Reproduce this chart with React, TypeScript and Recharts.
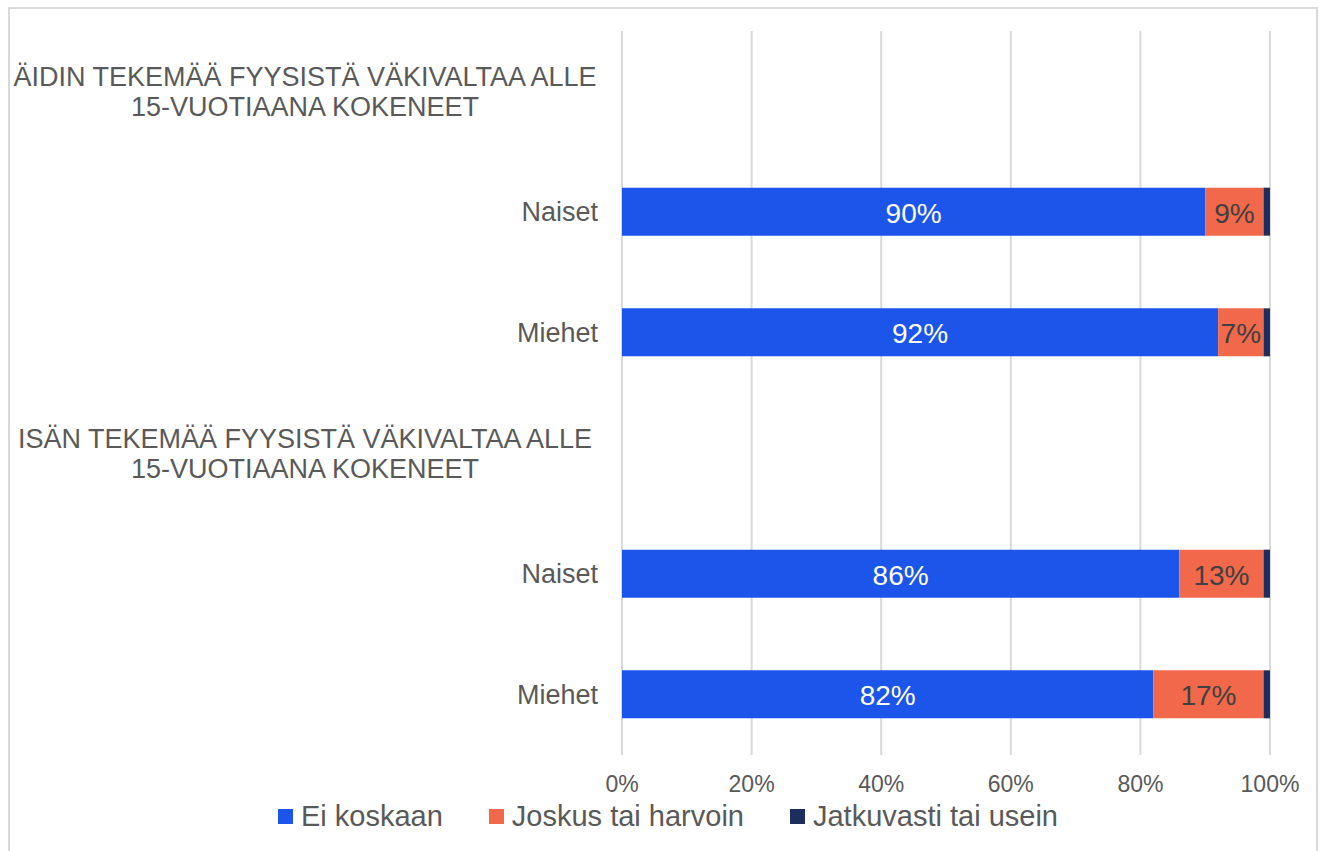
import React from "react";
import { BarChart, Bar, XAxis, YAxis, CartesianGrid, LabelList } from "recharts";

// Row keys (unique) and their displayed labels
const rowKeys = ["aiti", "aitiNaiset", "aitiMiehet", "isa", "isaNaiset", "isaMiehet"];
const rowLabels = [
  "ÄIDIN TEKEMÄÄ FYYSISTÄ VÄKIVALTAA ALLE\n15-VUOTIAANA KOKENEET",
  "Naiset",
  "Miehet",
  "ISÄN TEKEMÄÄ FYYSISTÄ VÄKIVALTAA ALLE\n15-VUOTIAANA KOKENEET",
  "Naiset",
  "Miehet",
];

// Percentages per series (null = header row without a bar)
const eiKoskaan = [null, 90, 92, null, 86, 82];
const joskus = [null, 9, 7, null, 13, 17];
const jatkuvasti = [null, 1, 1, null, 1, 1];

const seriesNames = ["Ei koskaan", "Joskus tai harvoin", "Jatkuvasti tai usein"];

const xTicks = [0, 20, 40, 60, 80, 100];

const FONT = "'Liberation Sans', Arial, sans-serif";
const TEXT = "#595959";
const BLUE = "#1B55EA";
const ORANGE = "#F2684B";
const NAVY = "#1C2D5E";
const seriesColors = [BLUE, ORANGE, NAVY];

const data = rowKeys.map((k, i) => ({
  key: k,
  ei: eiKoskaan[i],
  joskus: joskus[i],
  jatkuvasti: jatkuvasti[i],
}));

const YTick = ({ x, y, payload }: any) => {
  const idx = rowKeys.indexOf(payload.value);
  const label = rowLabels[idx] ?? "";
  const lines = label.split("\n");
  if (lines.length > 1) {
    return (
      <text x={x - 309} y={y} textAnchor="middle" fill={TEXT} fontSize={27} fontFamily={FONT}>
        {lines.map((ln: string, j: number) => (
          <tspan key={j} x={x - 309} dy={j === 0 ? -5 : 30}>{ln}</tspan>
        ))}
      </text>
    );
  }
  return (
    <text x={x - 16} y={y} dy={9} textAnchor="end" fill={TEXT} fontSize={27} fontFamily={FONT}>
      {label}
    </text>
  );
};

const makeLabel = (color: string) => (props: any) => {
  const { x, y, width, height, value } = props;
  if (value == null || value < 3) return null;
  return (
    <text
      x={x + width / 2}
      y={y + height / 2}
      dy={11}
      textAnchor="middle"
      fill={color}
      fontSize={28}
      fontFamily={FONT}
    >
      {`${value}%`}
    </text>
  );
};

export default function App() {
  return (
    <div style={{ position: "fixed", left: 0, top: 0, width: 1320, height: 851, background: "#fff", overflow: "hidden" }}>
      <div style={{ position: "absolute", left: 8, top: 7, width: 1306, height: 870, border: "2px solid #D9D9D9" }} />
      <div style={{ position: "absolute", left: 0, top: 0 }}>
        <BarChart
          width={1320}
          height={851}
          data={data}
          layout="vertical"
          barSize={48}
          margin={{ top: 31, right: 50, bottom: 56, left: 0 }}
        >
          <CartesianGrid horizontal={false} stroke="#D9D9D9" strokeWidth={2} />
          <XAxis
            type="number"
            domain={[0, 100]}
            ticks={xTicks}
            tickFormatter={(v: number) => `${v}%`}
            axisLine={false}
            tickLine={false}
            tickSize={6}
            tickMargin={15}
            height={40}
            tick={{ fill: TEXT, fontSize: 23, fontFamily: FONT }}
          />
          <YAxis
            type="category"
            dataKey="key"
            width={622}
            axisLine={false}
            tickLine={false}
            tick={<YTick />}
            interval={0}
          />
          <Bar dataKey="ei" name={seriesNames[0]} stackId="a" fill={BLUE} isAnimationActive={false}>
            <LabelList dataKey="ei" content={makeLabel("#FFFFFF")} />
          </Bar>
          <Bar dataKey="joskus" name={seriesNames[1]} stackId="a" fill={ORANGE} isAnimationActive={false}>
            <LabelList dataKey="joskus" content={makeLabel("#404040")} />
          </Bar>
          <Bar dataKey="jatkuvasti" name={seriesNames[2]} stackId="a" fill={NAVY} isAnimationActive={false} />
        </BarChart>
      </div>
      {/* legend */}
      <div
        style={{
          position: "absolute",
          top: 802,
          left: 15,
          width: 1306,
          display: "flex",
          justifyContent: "center",
          gap: 46,
          fontFamily: FONT,
          fontSize: 29,
          lineHeight: "28px",
          color: TEXT,
        }}
      >
        {seriesNames.map((n, i) => (
          <div key={n} style={{ display: "flex", alignItems: "center" }}>
            <span style={{ display: "inline-block", width: 15, height: 15, background: seriesColors[i], marginRight: 8 }} />
            <span>{n}</span>
          </div>
        ))}
      </div>
    </div>
  );
}
